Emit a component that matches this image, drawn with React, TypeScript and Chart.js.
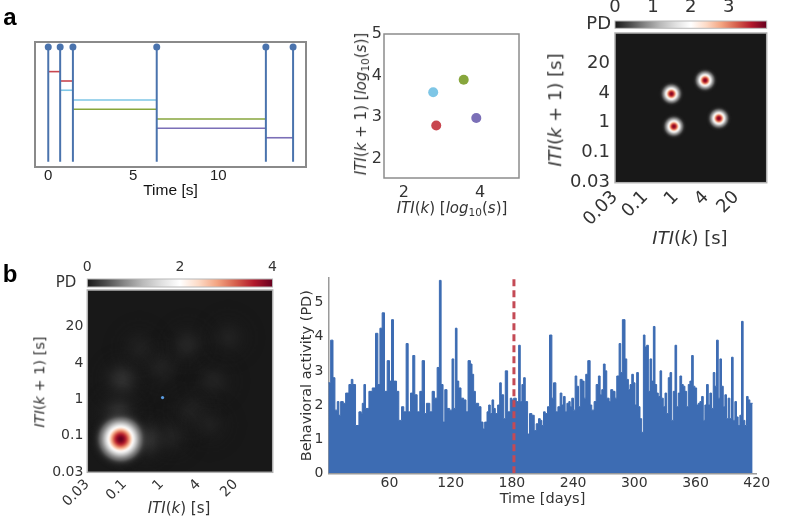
import React, { useEffect, useRef } from 'react';
import { Chart, registerables } from 'chart.js';

Chart.register(...registerables);
Chart.defaults.font.family = "'DejaVu Sans'";

// ---------------- data: panel a, left (event raster) ----------------
const eventTimes = [0, 0.7, 1.45, 6.38, 12.8, 14.4];
const timeTicks = [0, 5, 10];
const segmentLevels = [0.763, 0.688, 0.614, 0.536, 0.462, 0.384, 0.31, 0.234];
const stemRange = [0.042, 0.96];

// ---------------- data: panel a, middle (ITI return map) ----------------
const itiK = [2.85, 2.77, 3.57, 3.9]; // red, cyan, green, purple
const itiK1 = [2.8, 3.6, 3.9, 2.98];
const logTicksX = [2, 4];
const logTicksY = [2, 3, 4, 5];

// ---------------- data: heatmaps ----------------
const binTickValues = [0, 1, 2, 3, 4];
const binTickLabels = ['0.03', '0.1', '1', '4', '20'];

const aBlobX = [1.86, 1.94, 2.97, 3.42];
const aBlobY = [2.97, 1.88, 3.42, 2.15];
const aBlobPD = [3.9, 3.9, 3.9, 3.9];
const aColorbarTicks = [0, 1, 2, 3];
const aColorbarMax = 4;

const bBlobX = [0.95, 0.85, 1.6, 2.3, 2.0, 2.7, 3.4, 3.8, 2.8, 3.3, 1.4, 0.9];
const bBlobY = [2.55, 1.6, 0.9, 1.0, 2.9, 3.5, 2.5, 3.7, 1.7, 1.3, 3.4, 0.91];
const bBlobPD = [0.3, 0.32, 0.34, 0.2, 0.2, 0.22, 0.19, 0.18, 0.19, 0.17, 0.18, 4.0];
const bMarkerX = [2.03];
const bMarkerY = [2.05];
const bColorbarTicks = [0, 2, 4];
const bColorbarMax = 4;

// ---------------- data: panel b, right (behavioral activity) ----------------
const activityDay = [
  0, 2.3, 4.6, 6.5, 8.8, 10.4, 12.1, 14.7, 17.0, 20.2, 22.5, 24.1, 26.7, 30.0, 32.3, 33.3, 34.9, 36.5, 39.8, 43.1,
  46.3, 48.6, 50.6, 52.8, 55.1, 57.7, 60.0, 62.0, 63.9, 66.9, 69.1, 71.8, 74.0, 76.3, 78.3, 80.6, 82.8, 84.8, 87.1, 89.7,
  92.0, 94.3, 96.2, 99.5, 101.8, 104.0, 106.7, 108.9, 110.6, 112.5, 114.2, 116.4, 119.0, 121.3, 123.0, 124.6, 126.2, 127.9, 130.1, 132.7,
  135.0, 137.0, 139.3, 140.9, 142.5, 144.2, 147.4, 149.7, 151.7, 153.3, 155.6, 157.2, 158.8, 160.5, 162.1, 163.7, 166.0, 168.0, 169.6, 171.9,
  173.5, 175.8, 178.4, 180.0, 181.7, 184.3, 186.6, 188.2, 189.8, 191.5, 193.1, 195.4, 197.3, 199.6, 201.9, 203.8, 206.1, 207.8, 209.4, 211.0,
  212.7, 214.9, 216.9, 219.2, 220.8, 223.1, 225.1, 227.3, 229.0, 230.6, 232.2, 233.9, 235.8, 237.1, 238.7, 240.4, 242.0, 243.6, 245.3, 246.9,
  248.9, 250.8, 252.4, 254.4, 256.7, 258.3, 260.6, 262.6, 264.8, 266.5, 268.1, 269.7, 271.4, 273.0, 275.3, 276.9, 278.9, 281.1, 282.8, 285.1,
  286.7, 288.3, 290.9, 292.6, 294.2, 295.8, 297.5, 299.1, 300.7, 302.3, 304.0, 305.6, 307.2, 308.9, 310.5, 312.1, 313.8, 315.4, 317.0, 318.7,
  320.3, 321.9, 323.5, 325.2, 326.8, 328.4, 330.1, 331.7, 333.3, 335.0, 336.6, 338.2, 339.9, 341.5, 343.1, 344.7, 346.4, 348.0, 349.6, 351.3,
  352.9, 354.5, 356.2, 357.8, 359.4, 361.1, 362.7, 364.3, 366.0, 367.6, 369.2, 370.8, 372.5, 374.1, 375.7, 377.4, 379.0, 380.6, 382.3, 383.9,
  385.5, 387.2, 388.8, 390.4, 392.0, 393.7, 395.3, 396.9, 398.6, 400.2, 401.8, 403.5, 405.1, 406.7, 408.4, 410.0, 411.6, 413.3,
];
const activityPD = [
  2.65, 3.9, 2.8, 1.85, 2.1, 1.7, 2.1, 2.05, 2.35, 2.6, 2.75, 2.6, 1.4, 1.8, 1.75, 2.05, 2.6, 1.9, 2.4, 2.5,
  4.1, 2.6, 4.25, 4.7, 2.4, 3.3, 2.7, 4.5, 2.7, 2.4, 1.55, 1.95, 1.8, 3.8, 1.8, 2.35, 3.45, 2.3, 1.8, 2.4,
  3.3, 1.75, 2.05, 1.8, 2.4, 2.2, 3.1, 5.65, 2.6, 1.5, 2.45, 1.9, 1.85, 3.35, 1.9, 4.25, 2.7, 2.5, 2.2, 2.15,
  1.8, 3.3, 3.2, 2.9, 2.4, 2.05, 1.95, 1.5, 1.3, 1.5, 1.8, 2.0, 1.75, 2.15, 1.9, 1.75, 2.0, 2.65, 2.3, 1.6,
  3.0, 1.8, 2.2, 2.15, 2.2, 2.1, 3.75, 2.1, 2.6, 2.8, 2.1, 1.15, 1.75, 1.7, 1.25, 1.45, 1.6, 1.55, 1.4, 1.8,
  1.75, 1.95, 4.05, 2.2, 2.65, 1.8, 1.95, 2.35, 2.0, 2.25, 1.8, 2.05, 2.1, 1.95, 2.2, 1.85, 2.85, 2.55, 1.95, 2.75,
  2.7, 2.2, 2.9, 3.3, 2.0, 1.85, 2.1, 2.6, 2.85, 2.3, 2.45, 3.2, 3.0, 2.2, 2.1, 2.45, 2.4, 2.2, 2.85, 3.8,
  2.95, 4.5, 3.35, 2.75, 2.45, 2.6, 2.9, 2.65, 2.0, 2.95, 1.95, 1.6, 1.2, 4.05, 3.7, 3.75, 2.4, 3.35, 2.7, 4.3,
  2.6, 2.35, 2.25, 3.0, 2.2, 1.95, 2.35, 1.75, 2.8, 2.95, 1.55, 2.4, 3.75, 1.95, 2.35, 2.85, 2.6, 2.55, 2.4, 1.95,
  2.6, 2.7, 3.45, 2.55, 2.5, 2.0, 2.05, 2.1, 2.25, 1.55, 2.0, 2.6, 2.0, 2.35, 1.9, 2.95, 2.55, 3.9, 2.2, 3.35,
  2.55, 1.95, 2.3, 1.6, 2.2, 1.6, 3.4, 1.55, 2.1, 1.65, 1.4, 1.7, 4.45, 1.55, 1.4, 2.25, 2.15, 2.05,
];
const activityEndDay = 416;
const dayTicks = [60, 120, 180, 240, 300, 360, 420];
const pdTicks = [0, 1, 2, 3, 4, 5];
const shiftDay = 182;

// ---------------- styles ----------------
const PAIR_COLORS = ['#c8464f', '#7ec6e6', '#87a63c', '#7b6fb7'];
const STEM_COLOR = '#4a73ad';
const BAR_COLOR = '#3d6cb3';
const DASH_COLOR = '#c44a55';
const TEXT = '#333333';
const RDGY_R = ['#1a1a1a', '#4d4d4d', '#878787', '#bababa', '#e0e0e0', '#ffffff', '#fddbc7', '#f4a582', '#d6604d', '#b2182b', '#67001f'];

const hexRgb = (h: string) => [parseInt(h.slice(1, 3), 16), parseInt(h.slice(3, 5), 16), parseInt(h.slice(5, 7), 16)];
const CMAP = RDGY_R.map(hexRgb);
function cmap(t: number) {
  const tt = Math.max(0, Math.min(1, t));
  const pos = tt * (CMAP.length - 1);
  const i = Math.min(Math.floor(pos), CMAP.length - 2);
  const f = pos - i;
  return CMAP[i].map((c, k) => Math.round(c + (CMAP[i + 1][k] - c) * f));
}

function makeBlob(peak: number, vmax: number, sigma: number, radius: number) {
  const c = document.createElement('canvas');
  c.width = c.height = radius * 2;
  const g = c.getContext('2d')!;
  const grad = g.createRadialGradient(radius, radius, 0, radius, radius, radius);
  const n = 24;
  for (let k = 0; k <= n; k++) {
    const r = (k / n) * radius;
    const v = peak * Math.exp(-(r * r) / (2 * sigma * sigma));
    const [R, G, B] = cmap(v / vmax);
    const a = k === n ? 0 : Math.min(1, v / (0.12 * vmax));
    grad.addColorStop(k / n, `rgba(${R},${G},${B},${a})`);
  }
  g.fillStyle = grad;
  g.fillRect(0, 0, radius * 2, radius * 2);
  return c;
}

const framePlugin = {
  id: 'frame',
  beforeDatasetsDraw(chart: any, _a: any, opts: any) {
    if (!opts || !opts.fill) return;
    const { ctx, chartArea: a } = chart;
    ctx.save();
    ctx.fillStyle = opts.fill;
    ctx.fillRect(a.left, a.top, a.right - a.left, a.bottom - a.top);
    ctx.restore();
  },
  afterDatasetsDraw(chart: any, _a: any, opts: any) {
    if (!opts || !opts.color) return;
    const { ctx, chartArea: a } = chart;
    ctx.save();
    ctx.strokeStyle = opts.color;
    ctx.lineWidth = opts.width || 1.5;
    ctx.strokeRect(a.left, a.top, a.right - a.left, a.bottom - a.top);
    ctx.restore();
  },
};

const setTicks = (vals: number[]) => (s: any) => {
  s.ticks = vals.map((v) => ({ value: v }));
};
const fixH = (h: number) => (s: any) => {
  s.height = h;
};
const fixW = (w: number) => (s: any) => {
  s.width = w;
};
const binLabel = (v: any) => {
  const i = binTickValues.indexOf(Number(v));
  return i >= 0 ? binTickLabels[i] : '';
};
const noGrid = { display: false, drawTicks: false };
const noBorder = { display: false };
const base = {
  responsive: false,
  maintainAspectRatio: false,
  animation: false as const,
  events: [] as any[],
};
const basePlugins = { legend: { display: false }, tooltip: { enabled: false } };

function colorbarFill(vmax: number) {
  return (ctx: any) => {
    const chart = ctx.chart;
    if (!chart.chartArea) return '#888';
    const xs = chart.scales.x;
    const g = chart.ctx.createLinearGradient(xs.getPixelForValue(0), 0, xs.getPixelForValue(vmax), 0);
    RDGY_R.forEach((c, i) => g.addColorStop(i / (RDGY_R.length - 1), c));
    return g;
  };
}

function colorbarConfig(vmax: number, ticks: number[], o: any) {
  return {
    type: 'bar',
    data: {
      labels: ['PD'],
      datasets: [{ data: [[0, vmax]], backgroundColor: colorbarFill(vmax), borderWidth: 0, barPercentage: 1, categoryPercentage: 1 }],
    },
    options: {
      ...base,
      indexAxis: 'y',
      layout: { padding: o.padding },
      plugins: { ...basePlugins, frame: { color: '#b8b8b8', width: 1 } },
      scales: {
        x: {
          position: 'top', type: 'linear', min: 0, max: vmax,
          afterBuildTicks: setTicks(ticks), afterFit: fixH(o.xh),
          grid: noGrid, border: noBorder,
          ticks: { padding: 3, color: TEXT, font: { size: o.font }, maxRotation: 0, autoSkip: false },
        },
        y: {
          afterFit: fixW(o.yw), grid: noGrid, border: noBorder,
          ticks: { padding: o.pdPad, color: TEXT, font: { size: o.pdFont } },
        },
      },
    },
    plugins: [framePlugin],
  };
}

function heatmapConfig(datasets: any[], o: any) {
  return {
    type: 'scatter',
    data: { datasets },
    options: {
      ...base,
      layout: { padding: o.padding },
      plugins: { ...basePlugins, frame: { fill: '#181818', color: '#b0b0b0', width: 1.5 } },
      scales: {
        x: {
          type: 'linear', min: 0, max: 5, afterBuildTicks: setTicks(binTickValues), afterFit: fixH(o.xh),
          grid: noGrid, border: noBorder,
          ticks: { padding: 4, color: TEXT, font: { size: o.font }, minRotation: 45, maxRotation: 45, autoSkip: false, callback: binLabel },
        },
        y: {
          type: 'linear', min: 0, max: 5, afterBuildTicks: setTicks(binTickValues), afterFit: fixW(o.yw),
          grid: noGrid, border: noBorder,
          ticks: { padding: o.yPad, color: TEXT, font: { size: o.font }, autoSkip: false, callback: binLabel },
        },
      },
    },
    plugins: [framePlugin],
  };
}

function Txt(props: { x: number; y: number; size: number; rot?: number; family?: string; bold?: boolean; color?: string; children: any }) {
  const { x, y, size, rot = 0, family = "'DejaVu Sans'", bold, color = TEXT, children } = props;
  return (
    <div
      style={{
        position: 'absolute', left: x, top: y, transform: `translate(-50%, -50%) rotate(${rot}deg)`,
        fontFamily: family, fontSize: size, whiteSpace: 'nowrap', color, lineHeight: 1.2, fontWeight: bold ? 700 : 400,
      }}
    >
      {children}
    </div>
  );
}
const Sub = ({ children }: any) => <span style={{ fontSize: '0.7em', verticalAlign: '-0.3em', lineHeight: 0 }}>{children}</span>;

export default function App() {
  const a1 = useRef<HTMLCanvasElement>(null);
  const a2 = useRef<HTMLCanvasElement>(null);
  const a3cb = useRef<HTMLCanvasElement>(null);
  const a3 = useRef<HTMLCanvasElement>(null);
  const b1cb = useRef<HTMLCanvasElement>(null);
  const b1 = useRef<HTMLCanvasElement>(null);
  const b2 = useRef<HTMLCanvasElement>(null);

  useEffect(() => {
    const charts: Chart[] = [];

    // ---- a1: event raster ----
    const stems = eventTimes.map((t) => ({
      data: [{ x: t, y: stemRange[0] }, { x: t, y: stemRange[1] }],
      borderColor: STEM_COLOR, borderWidth: 2, pointRadius: [0, 3.5], pointBackgroundColor: STEM_COLOR, pointBorderWidth: 0,
    }));
    const segs: any[] = [];
    PAIR_COLORS.forEach((col, p) => {
      [0, 1].forEach((j) => {
        const k = p + j;
        const lvl = segmentLevels[2 * p + j];
        segs.push({
          data: [{ x: eventTimes[k], y: lvl }, { x: eventTimes[k + 1], y: lvl }],
          borderColor: col, borderWidth: 1.6, pointRadius: 0,
        });
      });
    });
    charts.push(new Chart(a1.current!, {
      type: 'line',
      data: { datasets: [...stems, ...segs] },
      options: {
        ...base,
        layout: { padding: { left: 35, top: 12, right: 14, bottom: 0 } },
        plugins: { ...basePlugins, frame: { color: '#8a8a8a', width: 2 } } as any,
        scales: {
          x: {
            type: 'linear', min: -0.78, max: 15.16, afterBuildTicks: setTicks(timeTicks), afterFit: fixH(33),
            grid: noGrid, border: noBorder,
            ticks: { padding: 0, color: '#222', font: { family: "'Liberation Sans'", size: 15 }, maxRotation: 0, autoSkip: false },
            title: { display: true, text: 'Time [s]', color: '#111', font: { family: "'Liberation Sans'", size: 15.5 }, padding: 0 },
          },
          y: { type: 'linear', min: 0, max: 1, display: false },
        },
      } as any,
      plugins: [framePlugin],
    } as any));

    // ---- a2: ITI return map ----
    charts.push(new Chart(a2.current!, {
      type: 'scatter',
      data: {
        datasets: [{
          data: itiK.map((x, i) => ({ x, y: itiK1[i] })),
          pointRadius: 5, pointBackgroundColor: PAIR_COLORS, pointBorderWidth: 0,
        }],
      },
      options: {
        ...base,
        layout: { padding: { left: 0, top: 14, right: 11, bottom: 0 } },
        plugins: { ...basePlugins, frame: { color: '#8c8c8c', width: 1.5 } } as any,
        scales: {
          x: {
            type: 'linear', min: 1.48, max: 5.02, afterBuildTicks: setTicks(logTicksX), afterFit: fixH(27),
            grid: noGrid, border: noBorder,
            ticks: { padding: 5, color: TEXT, font: { size: 16 }, maxRotation: 0, autoSkip: false },
          },
          y: {
            type: 'linear', min: 1.54, max: 5.0, afterBuildTicks: setTicks(logTicksY), afterFit: fixW(44),
            grid: noGrid, border: noBorder,
            ticks: { padding: 2, color: TEXT, font: { size: 16 }, autoSkip: false },
          },
        },
      } as any,
      plugins: [framePlugin],
    } as any));

    // ---- a3: colorbar + heatmap ----
    charts.push(new Chart(a3cb.current!, colorbarConfig(aColorbarMax, aColorbarTicks, {
      padding: { left: 0, top: 0, right: 8.3, bottom: 16.7 }, xh: 21, yw: 55, font: 18, pdFont: 18, pdPad: 4,
    }) as any));
    const aImgs = aBlobPD.map((v) => makeBlob(v, aColorbarMax, 4.5, 13));
    charts.push(new Chart(a3.current!, heatmapConfig([
      {
        data: aBlobX.map((x, i) => ({ x, y: aBlobY[i] })),
        pointStyle: (c: any) => aImgs[c.dataIndex], pointRadius: 3, pointBorderWidth: 0,
      },
    ], { padding: { left: 0, top: 16, right: 8.3, bottom: 10 }, xh: 42.3, yw: 55, font: 18, yPad: 5 }) as any));

    // ---- b1: colorbar + heatmap ----
    charts.push(new Chart(b1cb.current!, colorbarConfig(bColorbarMax, bColorbarTicks, {
      padding: { left: 0, top: 0, right: 7.3, bottom: 21 }, xh: 24, yw: 57.3, font: 14, pdFont: 15, pdPad: 11,
    }) as any));
    const bImgs = bBlobPD.map((v) => (v > 1 ? makeBlob(v, bColorbarMax, 10.5, 32) : makeBlob(v, bColorbarMax, 13, 38)));
    charts.push(new Chart(b1.current!, heatmapConfig([
      {
        data: bMarkerX.map((x, i) => ({ x, y: bMarkerY[i] })),
        pointRadius: 1.6, pointBackgroundColor: '#5a9be0', pointBorderWidth: 0,
      },
      {
        data: bBlobX.map((x, i) => ({ x, y: bBlobY[i] })),
        pointStyle: (c: any) => bImgs[c.dataIndex], pointRadius: 3, pointBorderWidth: 0,
      },
    ], { padding: { left: 0, top: 13, right: 7.3, bottom: 10 }, xh: 40.7, yw: 57.3, font: 14, yPad: 4 }) as any));

    // ---- b2: behavioral activity ----
    const steps = activityDay.map((d, i) => ({ x: d, y: activityPD[i] }));
    steps.push({ x: activityEndDay, y: activityPD[activityPD.length - 1] });
    charts.push(new Chart(b2.current!, {
      type: 'line',
      data: {
        datasets: [
          {
            data: [{ x: shiftDay, y: 0 }, { x: shiftDay, y: 5.72 }],
            borderColor: DASH_COLOR, borderWidth: 3, borderDash: [7, 4], pointRadius: 0, fill: false,
          },
          {
            data: steps, stepped: true, fill: 'origin', backgroundColor: BAR_COLOR,
            borderColor: BAR_COLOR, borderWidth: 1, pointRadius: 0,
          },
        ],
      },
      options: {
        ...base,
        layout: { padding: { left: 0, top: 14, right: 33.3, bottom: 21.6 } },
        plugins: { ...basePlugins },
        scales: {
          x: {
            type: 'linear', min: 0, max: 420, afterBuildTicks: setTicks(dayTicks), afterFit: fixH(35.1),
            grid: noGrid, border: { display: true, color: '#9a9a9a', width: 1.5 },
            ticks: { padding: 2, color: TEXT, font: { size: 14 }, maxRotation: 0, autoSkip: false },
            title: { display: true, text: 'Time [days]', color: TEXT, font: { size: 14.5 }, padding: 0 },
          },
          y: {
            type: 'linear', min: 0, max: 5.72, afterBuildTicks: setTicks(pdTicks), afterFit: fixW(38.3),
            grid: noGrid, border: { display: true, color: '#9a9a9a', width: 1.5 },
            ticks: { padding: 5, color: TEXT, font: { size: 14 }, autoSkip: false },
            title: { display: true, text: 'Behavioral activity (PD)', color: TEXT, font: { size: 14.5 }, padding: { top: 9, bottom: 0 } },
          },
        },
      } as any,
    } as any));

    return () => charts.forEach((c) => c.destroy());
  }, []);

  const cv = (left: number, top: number) => ({ position: 'absolute' as const, left, top });

  return (
    <div style={{ position: 'absolute', left: 0, top: 0, width: 800, height: 530, background: '#fff', overflow: 'hidden' }}>
      <canvas ref={a1} width={320} height={170} style={cv(0, 30)} />
      <canvas ref={a2} width={190} height={185} style={cv(340, 20)} />
      <canvas ref={a3cb} width={215} height={45} style={cv(560, 0)} />
      <canvas ref={a3} width={215} height={218} style={cv(560, 17)} />
      <canvas ref={b1cb} width={250} height={53} style={cv(30, 255)} />
      <canvas ref={b1} width={250} height={246} style={cv(30, 277)} />
      <canvas ref={b2} width={500} height={266} style={cv(290, 264)} />

      <Txt x={10} y={17} size={24} bold family="'Liberation Sans'" color="#000">a</Txt>
      <Txt x={10} y={274} size={24} bold family="'Liberation Sans'" color="#000">b</Txt>

      <Txt x={361} y={104} size={15} rot={-90}>
        <i>ITI</i>(<i>k</i> + 1) [<i>log</i><Sub>10</Sub>(<i>s</i>)]
      </Txt>
      <Txt x={452} y={208} size={15}>
        <i>ITI</i>(<i>k</i>) [<i>log</i><Sub>10</Sub>(<i>s</i>)]
      </Txt>

      <Txt x={555} y={110} size={18} rot={-90}>
        <i>ITI</i>(<i>k</i> + 1) [s]
      </Txt>
      <Txt x={690} y={238} size={18}>
        <i>ITI</i>(<i>k</i>) [s]
      </Txt>

      <Txt x={40} y={382} size={14.5} rot={-90}>
        <i>ITI</i>(<i>k</i> + 1) [s]
      </Txt>
      <Txt x={179} y={508} size={15}>
        <i>ITI</i>(<i>k</i>) [s]
      </Txt>
    </div>
  );
}
